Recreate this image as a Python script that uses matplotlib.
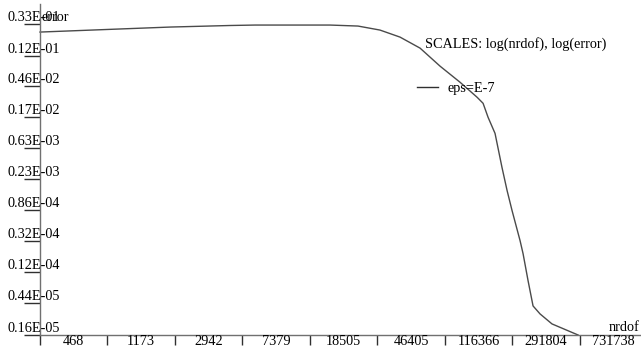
import matplotlib
matplotlib.use("Agg")
import matplotlib.pyplot as plt
from matplotlib.transforms import ScaledTranslation

# Data (log-log error curve)
nrdof = [468, 1135, 2750, 6226, 8756, 24310, 35600, 48000, 63100, 82900,
         108900, 142900, 180300, 195600, 209400, 230200, 253100, 271300,
         290300, 323800, 337300, 361100, 386300, 424800, 500000, 713400]
error = [0.02554, 0.02767, 0.02997, 0.03150, 0.03195, 0.03195, 0.03094,
         0.02723, 0.02174, 0.01529, 0.008586, 0.005141, 0.003181, 0.002623,
         0.001676, 0.001003, 3.376e-4, 1.614e-4, 8.51e-5, 3.253e-5,
         2.145e-5, 9.03e-6, 4.05e-6, 3.14e-6, 2.28e-6, 1.6e-6]

x_ticks = [468, 1173, 2942, 7379, 18505, 46405, 116366, 291804, 731738]
x_labels = [str(v) for v in x_ticks]
y_ticks = [0.33e-1, 0.12e-1, 0.46e-2, 0.17e-2, 0.63e-3, 0.23e-3,
           0.86e-4, 0.32e-4, 0.12e-4, 0.44e-5, 0.16e-5]
y_labels = ["0.33E-01", "0.12E-01", "0.46E-02", "0.17E-02", "0.63E-03",
            "0.23E-03", "0.86E-04", "0.32E-04", "0.12E-04", "0.44E-05",
            "0.16E-05"]

W, H = 641, 347
FONT = "Liberation Serif"
FS = 10.3
AX_COL = "#707070"
TICK_COL = "#303030"

fig = plt.figure(figsize=(W / 100, H / 100), dpi=100)
ax = fig.add_axes([40 / W, 12 / H, (W - 40) / W, (335 - 4) / H])
ax.set_xscale("log")
ax.set_yscale("log")
ax.set_xlim(468, 1.681e6)
ax.set_ylim(1.6e-6, 0.0626)
ax.minorticks_off()

for s in ("top", "right"):
    ax.spines[s].set_visible(False)
for s in ("left", "bottom"):
    ax.spines[s].set_color(AX_COL)
    ax.spines[s].set_linewidth(1.0)

ax.set_xticks(x_ticks)
ax.set_yticks(y_ticks)
ax.set_xticklabels([])
ax.set_yticklabels([])
ax.tick_params(axis="x", direction="out", length=7.5, width=1.0, color=TICK_COL)
ax.tick_params(axis="y", direction="out", length=11.5, width=1.0, color=TICK_COL)

ax.plot(nrdof, error, color="#4a4a4a", linewidth=1.0, clip_on=False)

# y labels: sit just above each tick, overlapping the axis
ytr = ax.get_yaxis_transform() + ScaledTranslation(-6 / 100, 3 / 100, fig.dpi_scale_trans)
for v, lab in zip(y_ticks, y_labels):
    ax.text(0, v, lab, transform=ytr, ha="center", va="baseline",
            fontsize=FS, family=FONT, color="black", clip_on=False)

# x labels: centred between consecutive ticks
ratio = x_ticks[1] / x_ticks[0]
xtr = ax.get_xaxis_transform() + ScaledTranslation(0, -10 / 100, fig.dpi_scale_trans)
for v, lab in zip(x_ticks, x_labels):
    ax.text(v * ratio ** 0.5, 0, lab, transform=xtr, ha="center", va="baseline",
            fontsize=FS, family=FONT, color="black", clip_on=False)

def ftext(x, y, s, **kw):
    fig.text(x / W, 1 - y / H, s, fontsize=FS, family=FONT, color="black",
             va="baseline", **kw)

ftext(41, 21, "error", ha="left")
ftext(640, 331, "nrdof", ha="right")
ftext(425, 48, "SCALES: log(nrdof), log(error)", ha="left")
ftext(448, 92, "eps=E-7", ha="left")
fig.add_artist(plt.Line2D([417 / W, 438 / W], [1 - 87 / H, 1 - 87 / H],
                          color="#303030", linewidth=1.0))

fig.savefig("out.png", dpi=100, facecolor="white")
